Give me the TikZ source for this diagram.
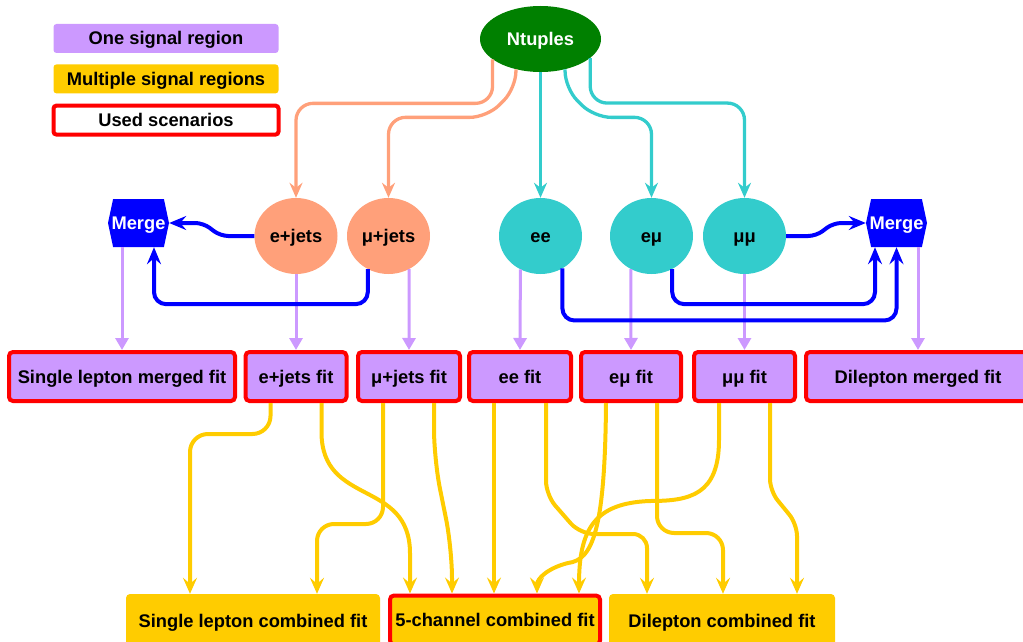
\documentclass[tikz,border=0pt]{standalone}
\usepackage{fontspec}
\setmainfont{Liberation Sans}
\usetikzlibrary{positioning,shapes.geometric,shapes.symbols,arrows.meta,calc}
\definecolor{lav}{HTML}{CC99FF}
\definecolor{gold}{HTML}{FFCC00}
\definecolor{salm}{HTML}{FFA07A}
\definecolor{turq}{HTML}{33CCCC}
\definecolor{ntgreen}{HTML}{008000}

\begin{document}
\begin{tikzpicture}[x=1pt,y=-1pt,
    every node/.style={font=\fontsize{18.3}{22}\selectfont\bfseries,inner sep=0pt,align=center,text height=13pt,text depth=0pt},
    legbox/.style={rounded corners=3pt,minimum width=225pt,minimum height=29pt},
    chan/.style={ellipse,minimum width=83pt,minimum height=76pt},
    merge/.style={signal,signal to=east and west,signal pointer angle=156,fill=blue,text=white,inner xsep=-3pt,minimum width=61pt,minimum height=48pt},
    fitbox/.style={draw=red,line width=4pt,fill=lav,rounded corners=4pt,minimum height=49pt},
    combbox/.style={fill=gold,rounded corners=4pt,minimum height=53pt},
    salarr/.style={draw=salm,line width=3.3pt,rounded corners=17pt,-{Stealth[length=15pt,width=13pt,inset=5pt]}},
    cyarr/.style={draw=turq,line width=3.3pt,rounded corners=17pt,-{Stealth[length=15pt,width=13pt,inset=5pt]}},
    bluarr/.style={draw=blue,line width=4pt,rounded corners=12pt,-{Stealth[length=17pt,width=14pt,inset=6pt]}},
    lavarr/.style={draw=lav,line width=3pt,-{Triangle[length=12pt,width=13pt]}},
    goldarr/.style={draw=gold,line width=4pt,-{Stealth[length=16pt,width=14pt,inset=6pt]}}]
    \useasboundingbox (0,0) rectangle (1023,642);

    \node[legbox,fill=lav] (one) at (166,38.5) {One signal region};
    \node[legbox,fill=gold,below=11pt of one] (multi) {Multiple signal regions};
    \node[legbox,draw=red,line width=4pt,fill=white,below=10pt of multi] (used) {Used scenarios};

    \node[ellipse,fill=ntgreen,text=white,minimum width=121pt,minimum height=66pt] (nt) at (540.5,39) {Ntuples};
    \node[chan,fill=salm] (ej) at (296,236) {e+jets};
    \node[chan,fill=salm] (mj) at (388.5,236) {μ+jets};
    \node[chan,fill=turq] (ee) at (540.5,236) {ee};
    \node[chan,fill=turq] (em) at (651.5,236) {eμ};
    \node[chan,fill=turq] (mm) at (744.5,236) {μμ};
    \node[merge] (lm) at (138.5,223) {Merge};
    \node[merge] (rm) at (896.5,223) {Merge};

    \node[fitbox,minimum width=226pt] (slm) at (122,376.5) {Single lepton merged fit};
    \node[fitbox,minimum width=101pt] (ejf) at (296,376.5) {e+jets fit};
    \node[fitbox,minimum width=102pt] (mjf) at (409,376.5) {μ+jets fit};
    \node[fitbox,minimum width=102pt] (eef) at (520,376.5) {ee fit};
    \node[fitbox,minimum width=100pt] (emf) at (631,376.5) {eμ fit};
    \node[fitbox,minimum width=101pt] (mmf) at (744.5,376.5) {μμ fit};
    \node[fitbox,minimum width=224pt] (dmf) at (918,376.5) {Dilepton merged fit};

    \node[combbox,minimum width=254pt] (slc) at (253,620.5) {Single lepton combined fit};
    \node[combbox,draw=red,line width=4pt,minimum width=210pt,minimum height=49pt] (fcc) at (495,620) {5-channel combined fit};
    \node[combbox,minimum width=226pt] (dlc) at (722,620.5) {Dilepton combined fit};

    \draw[salarr] (nt.203) -- ++(0,44) -| (ej.north);
    \draw[salarr] (nt.231) -- ++(0,19) -- ++(-29,29) -| (mj.north);
    \draw[cyarr] (nt.south) -- (ee.north);
    \draw[cyarr] (nt.309) -- ++(0,19) -- ++(29,29) -| (em.north);
    \draw[cyarr] (nt.339) -- ++(0,45) -| (mm.north);

    \draw[lavarr] (slm.north |- lm.south) -- (slm.north);
    \draw[lavarr] (ej.south) -- (ejf.north);
    \draw[lavarr] (mj.302) -- (mjf.north);
    \draw[lavarr] (ee.239) -- (eef.north);
    \draw[lavarr] (em.238) -- (emf.north);
    \draw[lavarr] (mm.south) -- (mmf.north);
    \draw[lavarr] (dmf.north |- rm.south) -- (dmf.north);

    \draw[bluarr,rounded corners=8pt] (ej.west) -- ++(-34,0) -- ++(-17,-13) -- (lm.east);
    \draw[bluarr] (mj.238) -- ++(0,35) -| ([xshift=15.5pt]lm.south);
    \draw[bluarr,rounded corners=8pt] (mm.east) -- ++(30,0) -- ++(17,-13) -- (rm.west);
    \draw[bluarr] (em.302) -- ++(0,35) -| ([xshift=-21.5pt]rm.south);
    \draw[bluarr] (ee.304) -- ++(0,52) -| (rm.south);

    \draw[goldarr,rounded corners=18pt] ([xshift=-25.5pt]ejf.south) -- ++(0,31) -| ([xshift=-63pt]slc.north);
    \draw[goldarr] ([xshift=25.5pt]ejf.south) -- ++(0,29) .. controls +(0,75) and +(0,-75) .. ([xshift=-85pt,yshift=40pt]fcc.north) -- ([xshift=-85pt]fcc.north);
    \draw[goldarr,rounded corners=17pt] ([xshift=-26pt]mjf.south) -- ++(0,121) -| ([xshift=64pt]slc.north);
    \draw[goldarr,rounded corners=30pt] ([xshift=25pt]mjf.south) -- ++(0,56) -- ([xshift=-43pt,yshift=45pt]fcc.north) -- ([xshift=-43pt]fcc.north);
    \draw[goldarr] ([xshift=-26pt]eef.south) -- ([xshift=-1pt]fcc.north);
    \draw[goldarr,rounded corners=14pt] ([xshift=26pt]eef.south) -- ++(0,92) -- ++(34,39) -| ([xshift=-75pt]dlc.north);
    \draw[goldarr] ([xshift=-25pt]emf.south) .. controls +(-1,130) and +(24,-3) .. (568,563) .. controls +(-20,5) and +(0,-15) .. ([xshift=42pt]fcc.north);
    \draw[goldarr,rounded corners=17pt] ([xshift=26pt]emf.south) -- ++(0,130) -| ([xshift=1pt]dlc.north);
    \draw[goldarr] ([xshift=-25.5pt]mmf.south) -- ++(0,37) .. controls +(0,55) and +(40,0) .. (650,501) .. controls +(-55,2) and +(0,-65) .. ([xshift=84pt]fcc.north);
    \draw[goldarr,rounded corners=12pt] ([xshift=25.5pt]mmf.south) -- ++(0,88) -- ++(27,33) -- ([xshift=75pt]dlc.north);
\end{tikzpicture}
\end{document}
